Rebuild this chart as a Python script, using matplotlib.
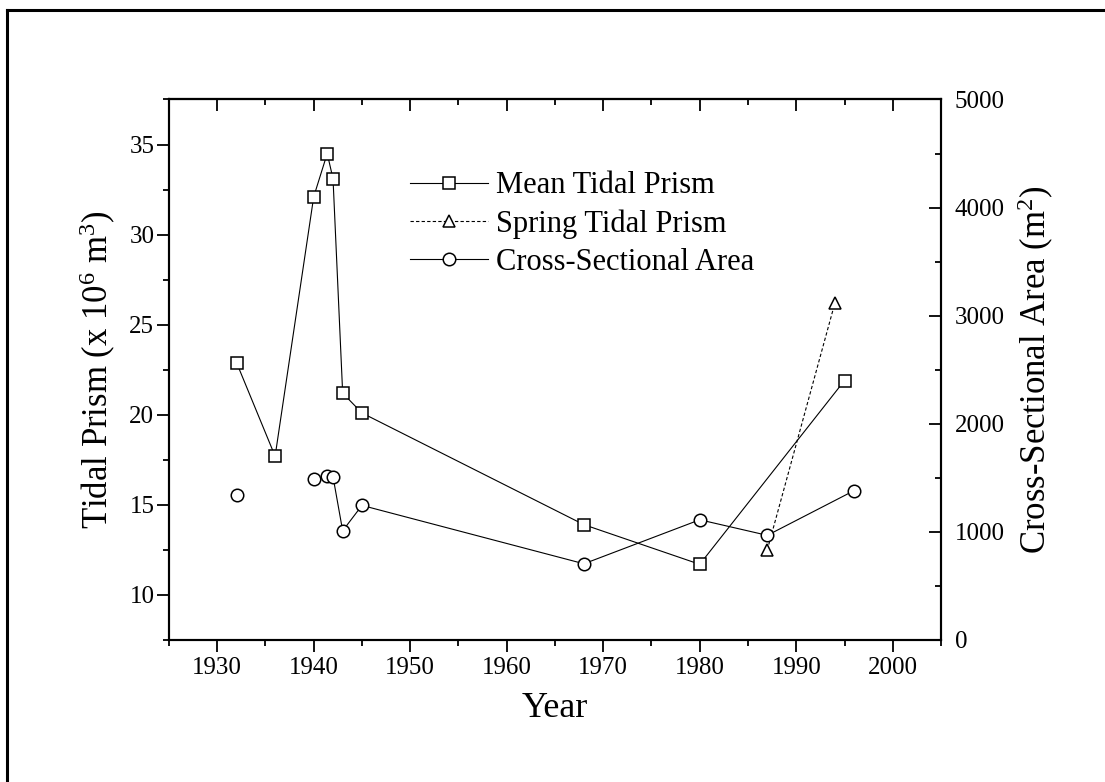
import numpy as np
import matplotlib
matplotlib.use("Agg")
import matplotlib.pyplot as plt
from matplotlib.ticker import MultipleLocator
from matplotlib.lines import Line2D

# =========================
# Data
# =========================
mean_years = [1932, 1936, 1940, 1941.4, 1942, 1943, 1945, 1968, 1980, 1995]
mean_prism = [22.9, 17.7, 32.1, 34.5, 33.1, 21.2, 20.1, 13.9, 11.7, 21.9]

spring_years = [1987, 1994]
spring_prism = [12.5, 26.2]

# gap (nan) after 1932: the first point stands alone
area_years = [1932, np.nan, 1940, 1941.4, 1942, 1943, 1945, 1968, 1980, 1987, 1996]
area = [1340, np.nan, 1490, 1515, 1510, 1010, 1245, 705, 1112, 968, 1382]

# =========================
# Style
# =========================
plt.rcParams["font.family"] = ["Liberation Serif", "DejaVu Serif"]
plt.rcParams["mathtext.fontset"] = "custom"
plt.rcParams["mathtext.rm"] = "Liberation Serif"
plt.rcParams["mathtext.it"] = "Liberation Serif:italic"

tick_size = 18
label_size = 25
legend_size = 22

fig = plt.figure(figsize=(11.05, 7.82), dpi=100)
ax = fig.add_axes([0.1529, 0.1816, 0.6987, 0.6912])
ax2 = ax.twinx()

mk = dict(markerfacecolor="white", markeredgecolor="black", markeredgewidth=1.1)

l1, = ax.plot(mean_years, mean_prism, color="black", lw=0.8, marker="s",
              markersize=8, label="Mean Tidal Prism", **mk)
l2, = ax.plot(spring_years, spring_prism, color="black", lw=0.8,
              linestyle=(0, (3, 2)), marker="^", markersize=9,
              label="Spring Tidal Prism", **mk)
l3, = ax2.plot(area_years, area, color="black", lw=0.8, marker="o",
               markersize=9, label="Cross-Sectional Area", **mk)

# =========================
# Axes
# =========================
ax.set_xlim(1925, 2005)
ax.set_ylim(7.5, 37.5)
ax2.set_ylim(0, 5000)

ax.xaxis.set_major_locator(MultipleLocator(10))
ax.xaxis.set_minor_locator(MultipleLocator(5))
ax.yaxis.set_major_locator(MultipleLocator(5))
ax.yaxis.set_minor_locator(MultipleLocator(2.5))
ax2.yaxis.set_major_locator(MultipleLocator(1000))
ax2.yaxis.set_minor_locator(MultipleLocator(500))

for s in ax.spines.values():
    s.set_linewidth(1.5)
for s in ax2.spines.values():
    s.set_linewidth(1.5)

ax.tick_params(axis="x", which="both", direction="out", top=False,
               labelsize=tick_size, width=1.3, pad=4)
ax.tick_params(axis="y", which="both", direction="out", right=False,
               labelsize=tick_size, width=1.3, pad=2)
ax.tick_params(which="major", length=8.5)
ax.tick_params(which="minor", length=4.5)

ax2.tick_params(axis="y", which="both", direction="in", labelsize=tick_size,
                width=1.3, pad=10)
ax2.tick_params(which="major", length=8.5)
ax2.tick_params(which="minor", length=4.5)

# top ticks point inward
top = ax.secondary_xaxis("top")
top.xaxis.set_major_locator(MultipleLocator(10))
top.xaxis.set_minor_locator(MultipleLocator(5))
top.tick_params(which="both", direction="in", labeltop=False, width=1.3)
top.tick_params(which="major", length=8.5)
top.tick_params(which="minor", length=4.5)
top.spines["top"].set_linewidth(1.5)

ax.set_xlabel("Year", fontsize=label_size + 1, labelpad=9)
ax.set_ylabel(r"Tidal Prism (x 10$^6$ m$^3$)", fontsize=label_size, labelpad=8)
ax2.set_ylabel(r"Cross-Sectional Area (m$^2$)", fontsize=label_size, labelpad=8)

# =========================
# Legend
# =========================
ax.legend(handles=[l1, l2, l3], loc="upper left", bbox_to_anchor=(0.277, 0.918),
          frameon=False, fontsize=legend_size, handlelength=2.55,
          handletextpad=0.25, labelspacing=0.3, numpoints=1)

# outer frame (top and left edges visible)
fig.add_artist(Line2D([7 / 1105, 7 / 1105], [0, 1 - 10 / 782],
                      transform=fig.transFigure, color="black", lw=2.2))
fig.add_artist(Line2D([7 / 1105, 1], [1 - 10 / 782, 1 - 10 / 782],
                      transform=fig.transFigure, color="black", lw=2.2))

fig.savefig("out.png", dpi=100)
